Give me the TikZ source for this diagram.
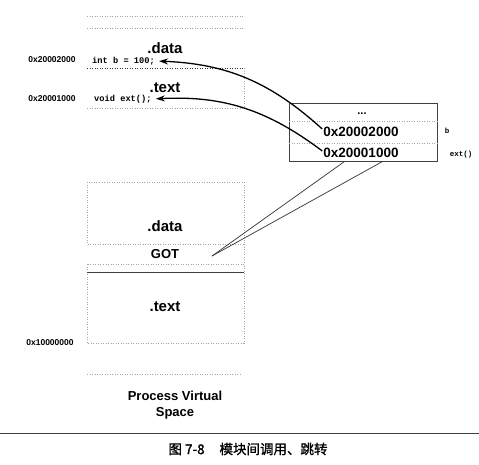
\documentclass[tikz,border=0pt]{standalone}
\usepackage{fontspec}
\setsansfont{Liberation Sans}
\setmonofont{Liberation Mono}
\newfontfamily\cjk{Noto Sans CJK SC}[FakeBold=1.2]
\usetikzlibrary{arrows.meta}

\begin{document}
\begin{tikzpicture}[x=1pt,y=-1pt,>={Stealth[length=9pt,width=6pt]},
  every node/.style={inner sep=1pt},
  addr/.style={font=\sffamily\bfseries\fontsize{8.5}{10}\selectfont},
  code/.style={font=\ttfamily\bfseries\fontsize{8.7}{10}\selectfont},
  tag/.style={font=\ttfamily\bfseries\fontsize{7.5}{9}\selectfont},
  sect/.style={font=\sffamily\bfseries\fontsize{15}{17}\selectfont},
  slot/.style={font=\sffamily\bfseries\fontsize{13.5}{15}\selectfont},
  dots/.style={draw=gray!70,dash pattern=on 1pt off 1.5pt,line width=0.6pt},
  table box/.style={draw=gray!50!black,line width=0.9pt,minimum width=148pt,minimum height=58pt}]
  \useasboundingbox (0,0) rectangle (479,464);

  % process virtual space
  \draw[dots] (87,16) -- (244,16);
  \draw[dots] (87,28) -- (244,28);
  \draw[dots,draw=gray!40!black] (87,68) -- (244,68);
  \draw[dots] (244,68) -- (244,108);
  \draw[dots] (87,108) -- (244,108);
  \draw[dots] (87,182) rectangle (244,244);
  \draw[dots] (244,244) -- (244,264);
  \draw[dots] (87,264) rectangle (244,343);
  \draw[gray!50!black,line width=0.8pt] (87,272) -- (244,272);
  \draw[dots] (87,374) -- (240,374);

  \node[sect] (data1) at (165,48) {.data};
  \node[code,anchor=west] (intb) at (91,61) {int b = 100;};
  \node[addr] (adrb) at (52,60) {0x20002000};
  \node[sect] (text1) at (165,88) {.text};
  \node[code,anchor=west] (voidext) at (93,99) {void ext();};
  \node[addr] (adrext) at (52,99) {0x20001000};

  \node[sect] (data2) at (165,226) {.data};
  \node[font=\sffamily\bfseries\fontsize{13}{15}\selectfont] (got) at (165,254) {GOT};
  \node[sect] (text2) at (165,307) {.text};
  \node[addr] (adrbase) at (50,343) {0x10000000};
  \node[font=\sffamily\bfseries\fontsize{13}{16}\selectfont,align=center] (pvs) at (175,405) {Process Virtual\\Space};

  % got of the module
  \node[table box] (tbl) at (363,132) {};
  \draw[dots] (289,121) -- (437,121);
  \draw[dots] (289,143) -- (437,143);
  \node[font=\sffamily\bfseries\fontsize{11}{12}\selectfont] (more) at (362,114) {...};
  \node[slot] (ptrb) at (361,132) {0x20002000};
  \node[slot] (ptrext) at (361,153) {0x20001000};
  \node[tag] (symb) at (447,131) {b};
  \node[tag] (symext) at (461,155) {ext()};
  \coordinate (gotin) at (212,256);

  \path[->,line width=1.3pt,shorten >=3pt]
    ([yshift=3pt]ptrb.west) edge [bend right=20] (intb.east)
    ([yshift=2pt]ptrext.west) edge [bend right=20] (voidext.east);
  \path[gray!40!black,line width=0.7pt]
    ([xshift=56pt]tbl.south west) edge (gotin)
    ([xshift=94pt]tbl.south west) edge (gotin);

  % caption
  \draw[gray!50!black,line width=0.8pt] (0,433) -- (479,433);
  \node[font=\cjk\fontsize{13.5}{15}\selectfont] (cap) at (248,449) {图 7-8\hspace{1.1em}模块间调用、跳转};
\end{tikzpicture}
\end{document}
